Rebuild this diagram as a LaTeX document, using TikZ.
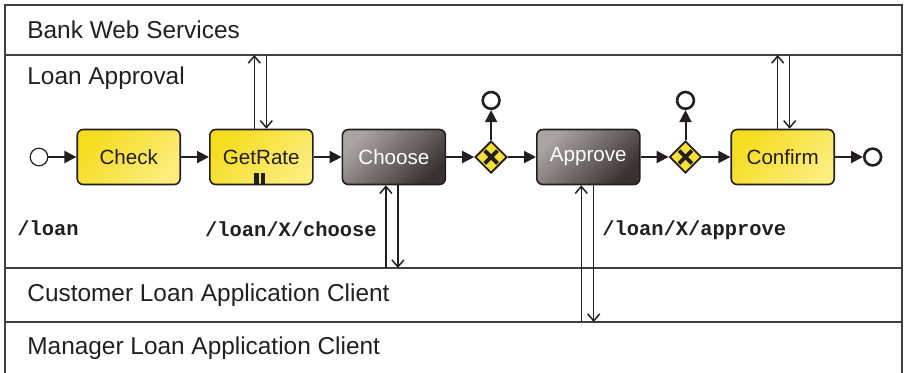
\documentclass[tikz,border=0pt]{standalone}
\usepackage{fontspec}
\setmainfont{Liberation Sans}
\setmonofont{Liberation Mono}
\usetikzlibrary{shapes.geometric, arrows.meta, positioning, calc}
\definecolor{inkblack}{RGB}{35, 31, 32}
\definecolor{taskyellow}{RGB}{245, 220, 30}
\definecolor{tasklight}{RGB}{252, 237, 125}
\definecolor{taskgraylight}{RGB}{170, 165, 162}
\definecolor{taskgraydark}{RGB}{56, 50, 48}
\definecolor{gateyellow}{RGB}{247, 224, 55}
\tikzstyle{lane} = [rectangle, draw=black!75, line width=0.7pt, minimum width=448.5pt, inner sep=0pt, outer sep=0pt]
\tikzstyle{lanetext} = [anchor=west, inner sep=0pt, text=inkblack, font=\fontsize{12.2}{14}\selectfont]
\tikzstyle{task} = [rectangle, rounded corners=3pt, minimum width=51.5pt, minimum height=27.5pt, text centered, draw=inkblack, line width=0.8pt, font=\fontsize{10.3}{12}\selectfont]
\tikzstyle{autotask} = [task, top color=taskyellow, bottom color=tasklight, shading angle=45, text=inkblack]
\tikzstyle{usertask} = [task, top color=taskgraylight, bottom color=taskgraydark, shading angle=45, text=white]
\tikzstyle{multi} = [path picture={
    \draw[line width=2.2pt, inkblack] ([xshift=-2.5pt]path picture bounding box.south) -- ++(0,6pt)
      ([xshift=0.7pt]path picture bounding box.south) -- ++(0,6pt);}]
\tikzstyle{gateway} = [diamond, minimum width=16pt, minimum height=16pt, inner sep=0pt, draw=inkblack, line width=0.9pt, fill=gateyellow,
  path picture={
    \draw[line width=1.9pt, inkblack] ([shift={(-3.2pt,-3.2pt)}]path picture bounding box.center) -- ++(6.4pt,6.4pt)
      ([shift={(-3.2pt,3.2pt)}]path picture bounding box.center) -- ++(6.4pt,-6.4pt);}]
\tikzstyle{startevent} = [circle, minimum size=8.8pt, inner sep=0pt, draw=inkblack, line width=0.6pt, fill=white]
\tikzstyle{endevent} = [circle, minimum size=8.4pt, inner sep=0pt, draw=inkblack, line width=1.3pt, fill=white]
\tikzstyle{uri} = [inner sep=0pt, text=inkblack, font=\ttfamily\bfseries\fontsize{10.2}{12}\selectfont]
\tikzstyle{flow} = [draw=inkblack, line width=1pt, -{Triangle[length=6pt,width=6pt]}]
\tikzstyle{message} = [draw=inkblack, line width=0.75pt, -{Straight Barb[length=3.5pt,width=6pt]}]
\begin{document}
\begin{tikzpicture}[x=0.5pt, y=-0.5pt, node distance=14pt]
\useasboundingbox (0,0) rectangle (907,372);

% Lanes
\node (bank) [lane, minimum height=25pt, anchor=north west] at (5,5) {};
\node (approval) [lane, minimum height=106.5pt, below=0pt of bank] {};
\node (customer) [lane, minimum height=27pt, below=0pt of approval] {};
\node (manager) [lane, minimum height=30pt, below=0pt of customer] {};

\node (banklabel) [lanetext] at ([xshift=11pt]bank.west) {Bank Web Services};
\node (approvallabel) [lanetext] at ([xshift=11pt,yshift=-11.5pt]approval.north west) {Loan Approval};
\node (customerlabel) [lanetext] at ([xshift=11pt]customer.west) {Customer Loan Application Client};
\node (managerlabel) [lanetext] at ([xshift=11pt,yshift=-13pt]manager.north west) {Manager Loan Application Client};

% Process
\node (start) [startevent] at (39,157) {};
\node (check) [autotask, right=of start] {Check};
\node (getrate) [autotask, multi, right=of check] {GetRate};
\node (choose) [usertask, right=of getrate] {Choose};
\node (xorone) [gateway, right=of choose] {};
\node (approve) [usertask, right=of xorone] {Approve};
\node (xortwo) [gateway, right=of approve] {};
\node (confirm) [autotask, right=of xortwo] {Confirm};
\node (finish) [endevent, right=of confirm] {};
\node (rejectone) [endevent, above=15pt of xorone] {};
\node (rejecttwo) [endevent, above=15pt of xortwo] {};

% Resource URIs
\node (uriloan) [uri, anchor=west] at (17,228) {/loan};
\node (urichoose) [uri, anchor=east] at (377,229) {/loan/X/choose};
\node (uriapprove) [uri, anchor=west] at (602,230) {/loan/X/approve};

% Sequence flows
\draw [flow] (start) -- (check);
\draw [flow] (check) -- (getrate);
\draw [flow] (getrate) -- (choose);
\draw [flow] (choose) -- (xorone);
\draw [flow] (xorone) -- (approve);
\draw [flow] (approve) -- (xortwo);
\draw [flow] (xortwo) -- (confirm);
\draw [flow] (confirm) -- (finish);
\draw [flow] (xorone) -- (rejectone);
\draw [flow] (xortwo) -- (rejecttwo);

% Message flows
\draw [message] ([xshift=-3.5pt]getrate.north) -- ([xshift=-3.5pt]getrate.north |- bank.south);
\draw [message] ([xshift=2.5pt]getrate.north |- bank.south) -- ([xshift=2.5pt]getrate.north);
\draw [message] ([xshift=-4pt]choose.south |- customer.north) -- ([xshift=-4pt]choose.south);
\draw [message] ([xshift=2pt]choose.south) -- ([xshift=2pt]choose.south |- customer.north);
\draw [message] ([xshift=-3.5pt]approve.south |- manager.north) -- ([xshift=-3.5pt]approve.south);
\draw [message] ([xshift=2.7pt]approve.south) -- ([xshift=2.7pt]approve.south |- manager.north);
\draw [message] ([xshift=-2.5pt]confirm.north) -- ([xshift=-2.5pt]confirm.north |- bank.south);
\draw [message] ([xshift=3.5pt]confirm.north |- bank.south) -- ([xshift=3.5pt]confirm.north);

\end{tikzpicture}
\end{document}
